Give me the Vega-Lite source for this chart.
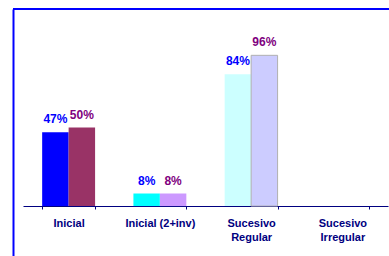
{
  "$schema": "https://vega.github.io/schema/vega-lite/v6.json",
  "width": 376,
  "height": 247,
  "autosize": {"type": "none"},
  "padding": {"left": 13, "top": 9, "right": 0, "bottom": 0},
  "background": "white",
  "config": {
    "view": {"stroke": null},
    "font": "Liberation Sans"
  },
  "data": {
    "values": [
      {"category": "Inicial", "series": "A", "value": 0.47},
      {"category": "Inicial", "series": "B", "value": 0.50},
      {"category": "Inicial (2+inv)", "series": "A", "value": 0.08},
      {"category": "Inicial (2+inv)", "series": "B", "value": 0.08},
      {"category": "Sucesivo Regular", "series": "A", "value": 0.84},
      {"category": "Sucesivo Regular", "series": "B", "value": 0.96}
    ]
  },
  "layer": [
    {
      "mark": {"type": "bar"},
      "encoding": {
        "x": {
          "field": "category",
          "type": "nominal",
          "sort": null,
          "scale": {
            "domain": ["Inicial", "Inicial (2+inv)", "Sucesivo Regular", "Sucesivo Irregular"],
            "range": [10, 375],
            "paddingInner": 0.42,
            "paddingOuter": 0.21
          },
          "axis": {
            "title": null,
            "orient": "bottom",
            "offset": -50,
            "domainColor": "#000080",
            "domainWidth": 1,
            "tickColor": "#000080",
            "tickSize": 3,
            "tickBand": "extent",
            "labelColor": "#000080",
            "labelFont": "Liberation Sans",
            "labelFontWeight": "bold",
            "labelFontSize": 11,
            "labelPadding": 8,
            "labelLineHeight": 14,
            "labelAngle": 0,
            "labelBaseline": "top",
            "labelExpr": "indexof(datum.label, 'Sucesivo') == 0 ? split(datum.label, ' ') : datum.label"
          }
        },
        "xOffset": {"field": "series", "type": "nominal", "scale": {"paddingInner": 0, "paddingOuter": 0}},
        "y": {
          "field": "value",
          "type": "quantitative",
          "scale": {"domain": [-0.318, 1.255], "nice": false, "zero": false},
          "axis": {
            "title": null,
            "domain": true,
            "domainColor": "#0000ff",
            "domainWidth": 2,
            "ticks": false,
            "labels": false,
            "grid": false
          }
        },
        "color": {
          "condition": [
            {"test": "datum.category == 'Inicial' && datum.series == 'A'", "value": "#0000ff"},
            {"test": "datum.category == 'Inicial' && datum.series == 'B'", "value": "#993366"},
            {"test": "datum.category == 'Inicial (2+inv)' && datum.series == 'A'", "value": "#00ffff"},
            {"test": "datum.category == 'Inicial (2+inv)' && datum.series == 'B'", "value": "#cc99ff"},
            {"test": "datum.category == 'Sucesivo Regular' && datum.series == 'A'", "value": "#ccffff"}
          ],
          "value": "#ccccff"
        },
        "stroke": {
          "condition": {"test": "datum.category == 'Sucesivo Regular' && datum.series == 'B'", "value": "#b0b0b0"},
          "value": null
        }
      }
    },
    {
      "mark": {"type": "text", "baseline": "alphabetic", "dy": -9, "fontWeight": "bold", "fontSize": 12, "font": "Liberation Sans"},
      "encoding": {
        "x": {"field": "category", "type": "nominal", "sort": null},
        "xOffset": {"field": "series", "type": "nominal"},
        "y": {"field": "value", "type": "quantitative"},
        "text": {"field": "value", "type": "quantitative", "format": ".0%"},
        "color": {
          "condition": {"test": "datum.series == 'A'", "value": "#0000ff"},
          "value": "#800080"
        }
      }
    },
    {
      "data": {"values": [{}]},
      "mark": {"type": "rule", "color": "#0000ff", "strokeWidth": 2},
      "encoding": {
        "y": {"datum": 1.255, "type": "quantitative"}
      }
    }
  ]
}
